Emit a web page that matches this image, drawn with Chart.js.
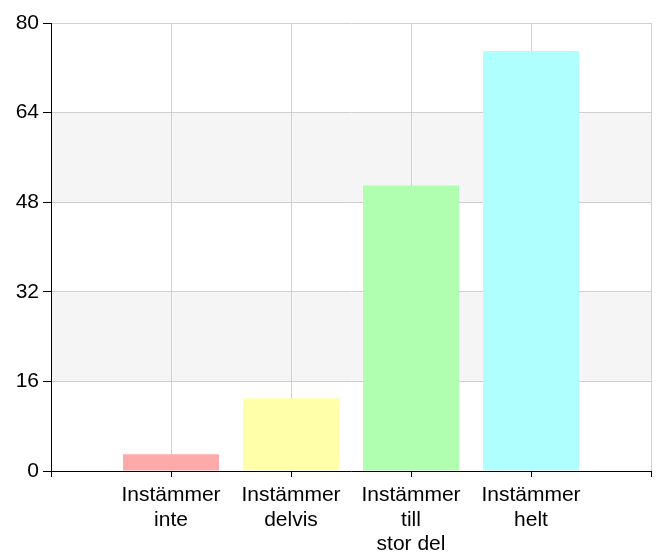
<!DOCTYPE html>
<html>
<head>
<meta charset="utf-8">
<script src="https://cdn.jsdelivr.net/npm/chart.js@4/dist/chart.umd.min.js"></script>
<style>
html,body{margin:0;padding:0;background:#fff;}
#wrap{width:660px;height:555px;position:relative;}
</style>
</head>
<body>
<div id="wrap"><canvas id="c" width="660" height="555"></canvas></div>
<script>
const categories = ['', ['Instämmer','inte'], ['Instämmer','delvis'], ['Instämmer','till','stor del'], ['Instämmer','helt'], ''];
const values = [null, 3, 13, 51, 75, null];
const barColors = ['#ffffff', '#ffaaaa', '#ffffaa', '#b0ffb0', '#b0ffff', '#ffffff'];
const yTicks = [0, 16, 32, 48, 64, 80];
const bands = [[16, 32], [48, 64]];

const bandUnderGrid = {
  id: 'bandsUnder',
  beforeDraw(chart) {
    const {ctx, chartArea, scales} = chart;
    if (!scales.y) return;
    ctx.save();
    ctx.fillStyle = '#f5f5f5';
    bands.forEach(([a, b]) => {
      const y1 = scales.y.getPixelForValue(b);
      const y2 = scales.y.getPixelForValue(a);
      ctx.fillRect(chartArea.left, y1, chartArea.right - chartArea.left, y2 - y1);
    });
    ctx.restore();
  }
};

Chart.defaults.font.family = '"Liberation Sans", Arial, sans-serif';
Chart.defaults.font.size = 20;
Chart.defaults.color = '#000';

new Chart(document.getElementById('c'), {
  type: 'bar',
  data: {
    labels: categories,
    datasets: [{
      data: values,
      backgroundColor: barColors,
      borderWidth: 0,
      barPercentage: 0.8,
      categoryPercentage: 1.0
    }]
  },
  options: {
    responsive: false,
    animation: false,
    layout: { padding: { top: 23, right: 9, left: 0, bottom: 0 } },
    plugins: { legend: { display: false }, tooltip: { enabled: false } },
    scales: {
      x: {
        offset: false,
        grid: { offset: false, color: '#d0d0d0', lineWidth: 1, tickColor: '#000', tickLength: 6, drawOnChartArea: true },
        border: { color: '#000', width: 1 },
        ticks: { maxRotation: 0, autoSkip: false, padding: 6, font: { size: 21, lineHeight: 1.17 } },
        afterFit(s) { s.height = 84; }
      },
      y: {
        min: 0, max: 80,
        afterBuildTicks(s) { s.ticks = yTicks.map(v => ({ value: v })); },
        grid: { color: '#d0d0d0', lineWidth: 1, tickColor: '#000', tickLength: 8 },
        border: { color: '#000', width: 1 },
        ticks: { padding: 4, font: { size: 21 } },
        afterFit(s) { s.width = 51; }
      }
    }
  },
  plugins: [bandUnderGrid]
});
</script>
</body>
</html>
